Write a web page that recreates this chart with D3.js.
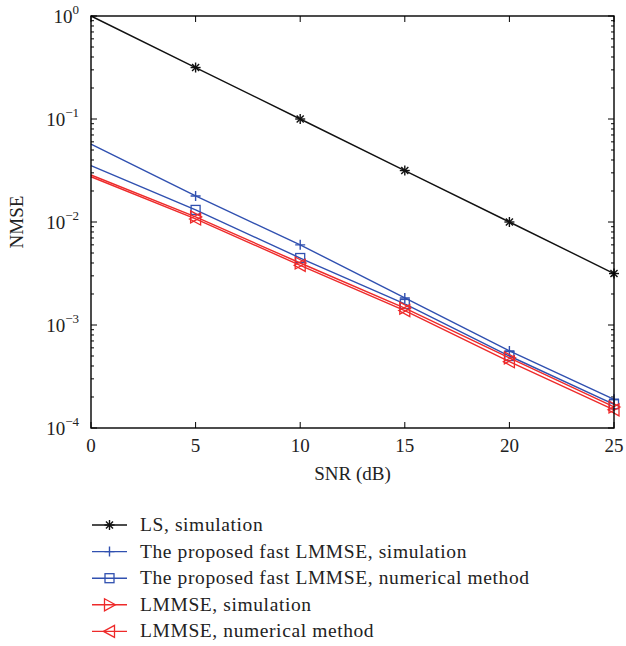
<!DOCTYPE html>
<html>
<head>
<meta charset="utf-8">
<script src="https://cdn.jsdelivr.net/npm/d3@7"></script>
<style>
  body { margin: 0; background: #fff; }
</style>
</head>
<body>
<script>
// SNR points and NMSE values
var snr = [0, 5, 10, 15, 20, 25];
var lsSim = [1, 0.316, 0.1, 0.0316, 0.01, 0.00316];
var fastSim = [0.057, 0.0179, 0.0060, 0.00183, 0.00056, 0.00019];
var fastNum = [0.0352, 0.0131, 0.00447, 0.0016, 0.00050, 0.00017];
var lmmseSim = [0.0286, 0.0112, 0.0040, 0.00146, 0.00048, 0.00016];
var lmmseNum = [0.0275, 0.0107, 0.0038, 0.00138, 0.00044, 0.00015];

var seriesNames = ["LS, simulation",
  "The proposed fast LMMSE, simulation",
  "The proposed fast LMMSE, numerical method",
  "LMMSE, simulation",
  "LMMSE, numerical method"];
var seriesColors = ["#111111", "#3050b0", "#3050b0", "#ee2a2a", "#ee2a2a"];
var seriesMarkers = ["star", "plus", "square", "triR", "triL"];
var seriesValues = [lsSim, fastSim, fastNum, lmmseSim, lmmseNum];

var xTicks = [0, 5, 10, 15, 20, 25];
var yExps = [0, -1, -2, -3, -4];

var width = 626, height = 646;
var margin = {top: 16, right: 12, bottom: 218, left: 91};
var plotW = width - margin.left - margin.right,
    plotH = height - margin.top - margin.bottom;
var serif = "'Liberation Serif', 'DejaVu Serif', 'Times New Roman', serif";

var svg = d3.select("body").append("svg")
  .attr("width", width).attr("height", height)
  .attr("font-family", serif);

var g = svg.append("g")
  .attr("transform", "translate(" + margin.left + "," + margin.top + ")");

var x = d3.scaleLinear().domain([0, 25]).range([0, plotW]);
var y = d3.scaleLog().domain([1e-4, 1]).range([plotH, 0]);

// minor ticks for the log axis
var minor = [];
for (var e = -4; e < 0; e++) {
  for (var m = 2; m <= 9; m++) minor.push(m * Math.pow(10, e));
}

// ticks inside the box on all four sides
yExps.forEach(function(p) {
  var yy = y(Math.pow(10, p));
  g.append("line").attr("x1", 0).attr("x2", 6).attr("y1", yy).attr("y2", yy).attr("stroke", "#000");
  g.append("line").attr("x1", plotW).attr("x2", plotW - 6).attr("y1", yy).attr("y2", yy).attr("stroke", "#000");
});
minor.forEach(function(v) {
  var yy = y(v);
  g.append("line").attr("x1", 0).attr("x2", 3).attr("y1", yy).attr("y2", yy).attr("stroke", "#000");
  g.append("line").attr("x1", plotW).attr("x2", plotW - 3).attr("y1", yy).attr("y2", yy).attr("stroke", "#000");
});
xTicks.forEach(function(t) {
  var xx = x(t);
  g.append("line").attr("x1", xx).attr("x2", xx).attr("y1", plotH).attr("y2", plotH - 6).attr("stroke", "#000");
  g.append("line").attr("x1", xx).attr("x2", xx).attr("y1", 0).attr("y2", 6).attr("stroke", "#000");
});

// x tick labels
g.selectAll(".xl").data(xTicks).enter().append("text")
  .attr("x", function(d) { return x(d); })
  .attr("y", plotH + 24)
  .attr("text-anchor", "middle")
  .attr("font-family", serif)
  .attr("font-size", "19px")
  .attr("fill", "#222")
  .text(function(d) { return d; });

// y tick labels with superscript
yExps.forEach(function(p) {
  var t = g.append("text")
    .attr("x", -12)
    .attr("y", y(Math.pow(10, p)) + 7)
    .attr("text-anchor", "end")
    .attr("font-family", serif)
    .attr("fill", "#222")
    .attr("font-size", "19px");
  t.append("tspan").text("10");
  t.append("tspan").attr("dy", -9).attr("font-size", "13px").text(p === 0 ? "0" : "\u2212" + (-p));
});

// axis titles
svg.append("text")
  .attr("x", margin.left + plotW / 2).attr("y", 480)
  .attr("text-anchor", "middle").attr("font-size", "19px")
  .attr("font-family", serif).attr("fill", "#222")
  .text("SNR (dB)");
svg.append("text")
  .attr("transform", "translate(23," + (margin.top + plotH / 2) + ") rotate(-90)")
  .attr("text-anchor", "middle").attr("font-size", "19px")
  .attr("font-family", serif).attr("fill", "#222")
  .text("NMSE");

var line = d3.line()
  .x(function(d, i) { return x(snr[i]); })
  .y(function(d) { return y(d); });

function drawMarker(sel, type, color, cx, cy) {
  var s = 5;
  if (type === "star") {
    [0, 45, 90, 135].forEach(function(a) {
      var r = a * Math.PI / 180;
      sel.append("line")
        .attr("x1", cx - s * Math.cos(r)).attr("y1", cy - s * Math.sin(r))
        .attr("x2", cx + s * Math.cos(r)).attr("y2", cy + s * Math.sin(r))
        .attr("stroke", color).attr("stroke-width", 1.4);
    });
  } else if (type === "plus") {
    sel.append("path")
      .attr("d", "M" + (cx - s) + "," + cy + "H" + (cx + s) + "M" + cx + "," + (cy - s) + "V" + (cy + s))
      .attr("stroke", color).attr("stroke-width", 1.4).attr("fill", "none");
  } else if (type === "square") {
    sel.append("rect")
      .attr("x", cx - 4.5).attr("y", cy - 4.5).attr("width", 9).attr("height", 9)
      .attr("stroke", color).attr("stroke-width", 1.3).attr("fill", "none");
  } else {
    var d = type === "triR"
      ? [[cx + 6, cy], [cx - 5, cy - 6], [cx - 5, cy + 6]]
      : [[cx - 6, cy], [cx + 5, cy - 6], [cx + 5, cy + 6]];
    sel.append("path")
      .attr("d", "M" + d.join("L") + "Z")
      .attr("stroke", color).attr("stroke-width", 1.3).attr("fill", "none");
  }
}

seriesValues.forEach(function(vals, k) {
  g.append("path").datum(vals)
    .attr("d", line)
    .attr("fill", "none")
    .attr("stroke", seriesColors[k])
    .attr("stroke-width", 1.4);
  vals.forEach(function(v, i) {
    if (i === 0) return;
    drawMarker(g, seriesMarkers[k], seriesColors[k], x(snr[i]), y(v));
  });
});

// box
g.append("rect").attr("width", plotW).attr("height", plotH)
  .attr("fill", "none").attr("stroke", "#000").attr("stroke-width", 1.4);

// legend
var leg = svg.append("g");
seriesNames.forEach(function(name, k) {
  var ly = 525 + k * 26.6;
  leg.append("line").attr("x1", 92).attr("x2", 127).attr("y1", ly).attr("y2", ly)
    .attr("stroke", seriesColors[k]).attr("stroke-width", 1.4);
  drawMarker(leg, seriesMarkers[k], seriesColors[k], 109.5, ly);
  leg.append("text").attr("x", 140).attr("y", ly + 6)
    .attr("font-family", serif).attr("fill", "#222")
    .attr("font-size", "19.5px").attr("letter-spacing", "0.6px").text(name);
});
</script>
</body>
</html>
